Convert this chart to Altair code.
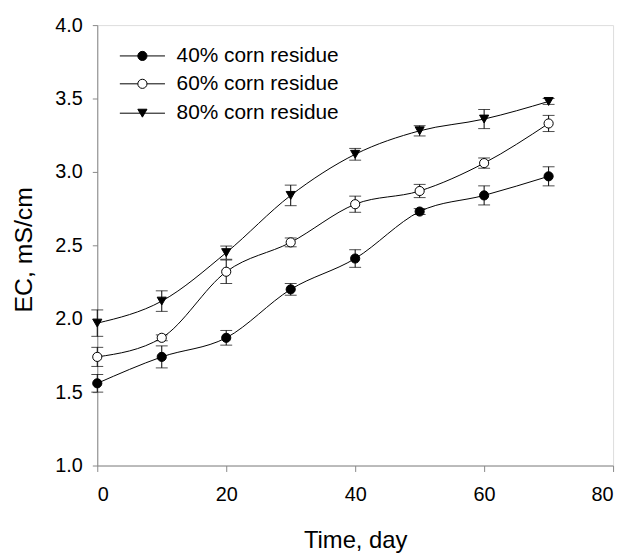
import altair as alt
import pandas as pd

days = [0, 10, 20, 30, 40, 50, 60, 70]
series_names = ["40% corn residue", "60% corn residue", "80% corn residue"]
ec_40 = [1.56, 1.74, 1.87, 2.20, 2.41, 2.73, 2.84, 2.97]
ec_60 = [1.74, 1.87, 2.32, 2.52, 2.78, 2.87, 3.06, 3.33]
ec_80 = [1.97, 2.12, 2.45, 2.84, 3.12, 3.28, 3.36, 3.48]
err_40 = [0.06, 0.075, 0.05, 0.04, 0.06, 0.02, 0.065, 0.065]
err_60 = [0.065, 0.02, 0.08, 0.03, 0.055, 0.045, 0.035, 0.055]
err_80 = [0.09, 0.07, 0.045, 0.07, 0.04, 0.035, 0.065, 0.02]

x_ticks = [0, 20, 40, 60, 80]
y_ticks = [1.0, 1.5, 2.0, 2.5, 3.0, 3.5, 4.0]

# legend rows (in data coordinates)
legend_y = [3.79, 3.60, 3.40]
legend_line_x = [3.5, 10.5]
legend_symbol_x = 7.0
legend_text_x = 12.3

rows = []
for name, vals, errs in zip(series_names, [ec_40, ec_60, ec_80], [err_40, err_60, err_80]):
    for d, v, e in zip(days, vals, errs):
        rows.append({"day": d, "ec": v, "lo": v - e, "hi": v + e, "series": name})
df = pd.DataFrame(rows)

leg = pd.DataFrame({
    "series": series_names,
    "y": legend_y,
    "x1": [legend_line_x[0]] * 3,
    "x2": [legend_line_x[1]] * 3,
    "xs": [legend_symbol_x] * 3,
    "xt": [legend_text_x] * 3,
})

FONT = "Liberation Sans"
TICK_FONT = "Liberation Sans Narrow, Arial Narrow, Liberation Sans"
xscale = alt.Scale(domain=[0, 80], nice=False, zero=False)
yscale = alt.Scale(domain=[1.0, 4.0], nice=False, zero=False)
shape_scale = alt.Scale(domain=series_names, range=["circle", "circle", "triangle-down"])
fill_scale = alt.Scale(domain=series_names, range=["black", "white", "black"])

x_enc = alt.X("day:Q", scale=xscale, axis=alt.Axis(
    values=x_ticks, title="Time, day", tickSize=6, labelPadding=13,
    titleFontSize=24, titleFontWeight="normal", titleBaseline="alphabetic", titleY=83,
    labelFontSize=20, labelFont=TICK_FONT, grid=False))
y_enc = alt.Y("ec:Q", scale=yscale, axis=alt.Axis(
    values=y_ticks, format=".1f", title="EC, mS/cm", tickSize=5, labelPadding=10,
    titleFontSize=25, titleFontWeight="normal", titleAngle=270, titleBaseline="alphabetic",
    titleX=-66, titleY=226, labelFontSize=20, labelFont=TICK_FONT, grid=False))

base = alt.Chart(df)

errbars = base.mark_errorbar(ticks={"size": 12}, color="black", thickness=1).encode(
    x=alt.X("day:Q", scale=xscale),
    y=alt.Y("lo:Q", scale=yscale, title=""),
    y2="hi:Q",
    detail="series:N",
)

lines = base.mark_line(color="black", strokeWidth=1, interpolate="monotone").encode(
    x=x_enc, y=y_enc, detail="series:N")

points = base.mark_point(filled=True, stroke="black", strokeWidth=1, size=85, opacity=1).encode(
    x=alt.X("day:Q", scale=xscale),
    y=alt.Y("ec:Q", scale=yscale),
    shape=alt.Shape("series:N", scale=shape_scale, legend=None),
    fill=alt.Fill("series:N", scale=fill_scale, legend=None),
)

lbase = alt.Chart(leg)
leg_lines = lbase.mark_rule(color="black", strokeWidth=1).encode(
    x=alt.X("x1:Q", scale=xscale), x2="x2:Q", y=alt.Y("y:Q", scale=yscale))
leg_points = lbase.mark_point(filled=True, stroke="black", strokeWidth=1, size=85, opacity=1).encode(
    x=alt.X("xs:Q", scale=xscale), y=alt.Y("y:Q", scale=yscale),
    shape=alt.Shape("series:N", scale=shape_scale, legend=None),
    fill=alt.Fill("series:N", scale=fill_scale, legend=None),
)
leg_text = lbase.mark_text(align="left", baseline="middle", fontSize=21, font=FONT, color="black").encode(
    x=alt.X("xt:Q", scale=xscale), y=alt.Y("y:Q", scale=yscale), text="series:N")

chart = alt.layer(errbars, lines, points, leg_lines, leg_points, leg_text).properties(
    width=520, height=444,
    autosize=alt.AutoSizeParams(type="none"),
    padding={"left": 90, "top": 15, "right": 10, "bottom": 93},
).configure_view(stroke="black", strokeWidth=1).configure_axis(
    domainColor="black", tickColor="black", labelColor="black", titleColor="black",
    labelFont=FONT, titleFont=FONT, domainWidth=1, tickWidth=1,
).configure(background="white")

chart.save("out.html", embed_options={"renderer": "svg", "actions": False})
